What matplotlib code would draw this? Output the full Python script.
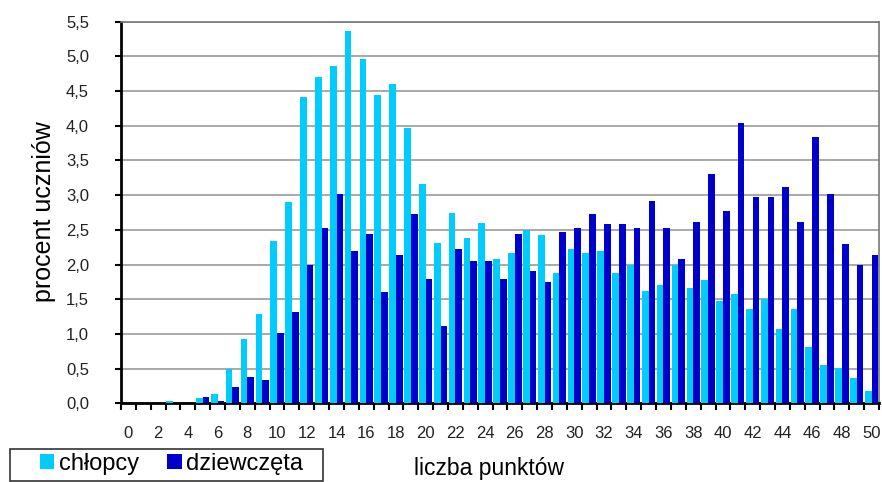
import numpy as np
import matplotlib
matplotlib.use("Agg")
import matplotlib.pyplot as plt
from matplotlib.patches import Rectangle
from matplotlib.ticker import FuncFormatter

plt.rcParams['font.family'] = ['Liberation Sans', 'DejaVu Sans']

# liczba punktów 0..50
punkty = list(range(0, 51))

chlopcy = [0.00, 0.00, 0.00, 0.03, 0.00, 0.07, 0.14, 0.49, 0.92, 1.29,
           2.34, 2.90, 4.41, 4.71, 4.86, 5.36, 4.96, 4.44, 4.60, 3.97,
           3.16, 2.31, 2.75, 2.38, 2.60, 2.08, 2.16, 2.50, 2.42, 1.88,
           2.23, 2.16, 2.20, 1.88, 1.99, 1.62, 1.70, 1.99, 1.66, 1.77,
           1.47, 1.58, 1.36, 1.51, 1.07, 1.36, 0.81, 0.55, 0.51, 0.37,
           0.18]

dziewczeta = [0.00, 0.00, 0.00, 0.00, 0.00, 0.09, 0.03, 0.24, 0.38, 0.33,
              1.02, 1.31, 2.00, 2.53, 3.01, 2.20, 2.44, 1.60, 2.14, 2.73,
              1.79, 1.12, 2.23, 2.05, 2.05, 1.79, 2.44, 1.90, 1.75, 2.47,
              2.53, 2.73, 2.58, 2.58, 2.53, 2.92, 2.53, 2.08, 2.62, 3.30,
              2.77, 4.04, 2.97, 2.97, 3.12, 2.62, 3.84, 3.01, 2.29, 1.99,
              2.14]

kolor_ch = '#00CCFF'
kolor_dz = '#0000CC'

fig = plt.figure(figsize=(8.82, 4.82), dpi=100)
ax = fig.add_axes([121 / 882, 1 - 403.3 / 482, 758 / 882, 381.6 / 482])

x = np.array(punkty)
w = 0.45
ax.bar(x - w / 2, chlopcy, width=w, color=kolor_ch, label='chłopcy', zorder=3)
ax.bar(x + w / 2, dziewczeta, width=w, color=kolor_dz, label='dziewczęta', zorder=3)

ax.set_xlim(-0.5, 50.5)
ax.set_ylim(0, 5.5)

ax.set_yticks(np.arange(0, 5.51, 0.5))
ax.yaxis.set_major_formatter(FuncFormatter(lambda v, p: f"{v:.1f}".replace('.', ',')))
ax.yaxis.grid(True, color='#999999', linewidth=1.2, zorder=0)
ax.tick_params(axis='y', direction='out', length=4, width=1.5, pad=19, labelsize=12,
               labelcolor='#222222')

ax.set_xticks(punkty[::2])
ax.set_xticks(np.arange(-0.5, 51, 1), minor=True)
ax.tick_params(axis='x', which='major', length=0, pad=16, labelsize=12, labelcolor='#222222')
ax.tick_params(axis='x', which='minor', direction='out', length=5, width=1.5)

for s in ['left', 'bottom']:
    ax.spines[s].set_color('black')
    ax.spines[s].set_linewidth(2)
for s in ['top', 'right']:
    ax.spines[s].set_color('#777777')
    ax.spines[s].set_linewidth(1.2)

fig.text(44 / 882, 1 - 212 / 482, 'procent uczniów', rotation=90, ha='center', va='center',
         fontsize=18)
fig.text(489 / 882, 1 - 469 / 482, 'liczba punktów', ha='center', va='center', fontsize=16.5)

# ramka legendy
fig.patches.append(Rectangle((10 / 882, 1 / 482), 313 / 882, 32 / 482,
                             transform=fig.transFigure, fill=False,
                             edgecolor='#333333', linewidth=1.2))
fig.legend(loc='center left', bbox_to_anchor=(40 / 882, 1 - 464 / 482), ncol=2,
           fontsize=17, frameon=False, handlelength=0.6, handleheight=0.6,
           handletextpad=0.2, columnspacing=1.2, borderpad=0, borderaxespad=0)

fig.savefig('out.png', dpi=100)
